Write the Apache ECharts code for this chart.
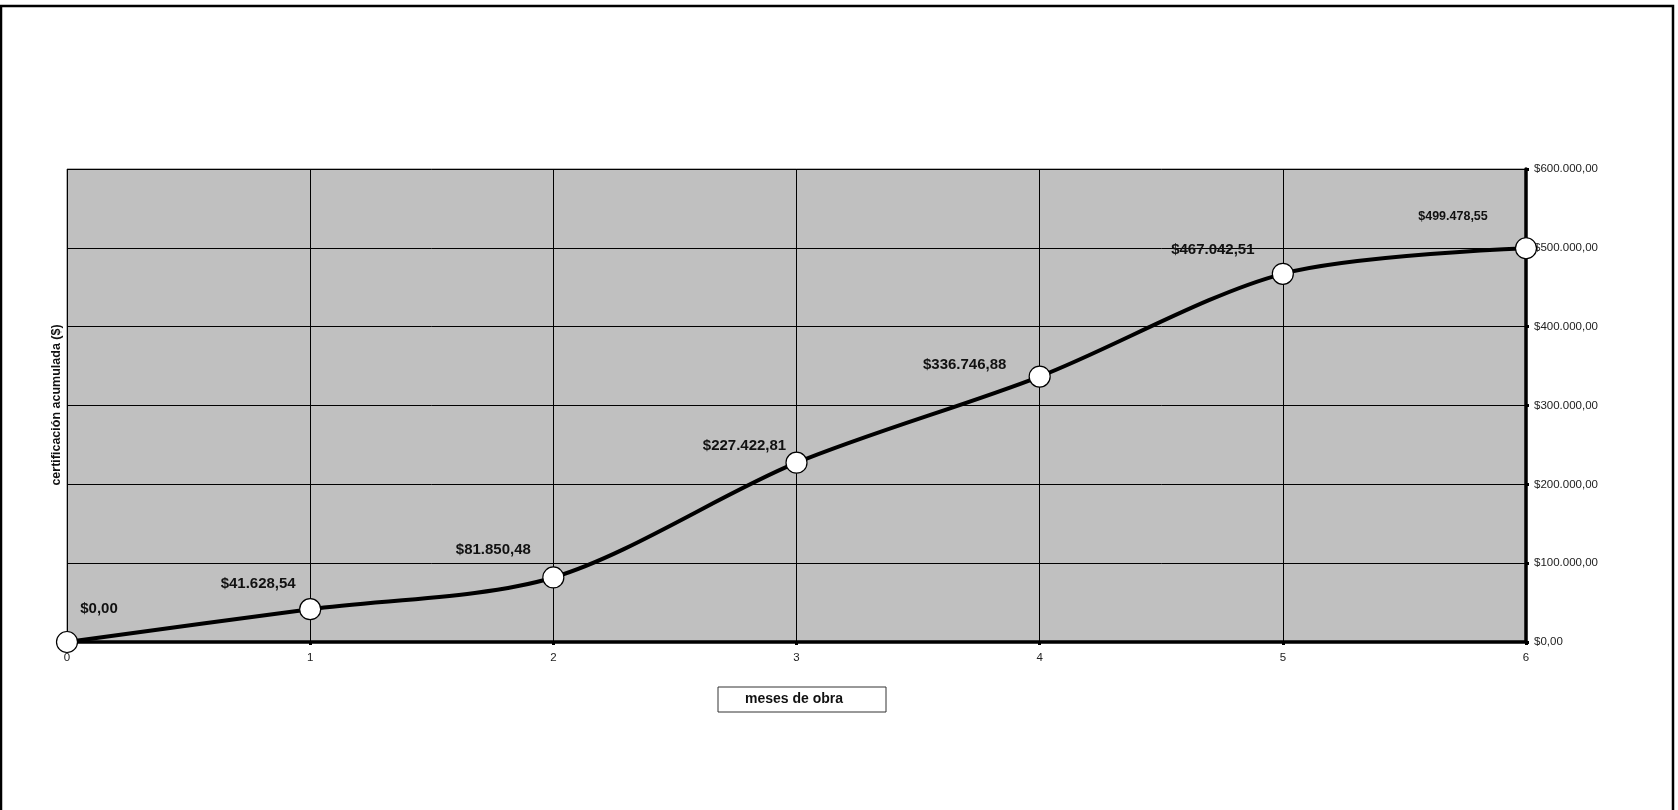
<!DOCTYPE html>
<html>
<head>
<meta charset="utf-8">
<script src="https://cdn.jsdelivr.net/npm/echarts@6/dist/echarts.min.js"></script>
<style>
html,body{margin:0;padding:0;background:#fff;}
#chart{width:1678px;height:810px;}
</style>
</head>
<body>
<div id="chart"></div>
<script>
// Data
var months = [0, 1, 2, 3, 4, 5, 6];
var cumulative = [0, 41628.54, 81850.48, 227422.81, 336746.88, 467042.51, 499478.55];
var yTicks = [0, 100000, 200000, 300000, 400000, 500000, 600000];
var xTitle = 'meses de obra';
var yTitle = 'certificación acumulada ($)';

// Label layout (style, not data)
var labelOffsets = [[32, -33], [-52, -25], [-60, -28], [-52, -17], [-75, -12], [-70, -24], [-73, -32]];
var labelSizes = [15, 15, 15, 15, 15, 15, 12.5];

function fmtMoney(v) {
  var fixed = v.toFixed(2);
  var parts = fixed.split('.');
  var intPart = parts[0].replace(/\B(?=(\d{3})+(?!\d))/g, '.');
  return '$' + intPart + ',' + parts[1];
}

var seriesData = months.map(function (m, i) {
  return {
    value: [m, cumulative[i]],
    label: {
      show: true,
      position: 'inside',
      offset: labelOffsets[i],
      fontSize: labelSizes[i],
      fontWeight: 'bold',
      color: '#111',
      fontFamily: 'Liberation Sans, Arial, sans-serif',
      formatter: function (p) { return fmtMoney(p.value[1]); }
    }
  };
});

var chart = echarts.init(document.getElementById('chart'));
chart.setOption({
  animation: false,
  backgroundColor: '#fff',
  grid: {
    left: 67, right: 152, top: 169, bottom: 168,
    show: true, backgroundColor: '#c0c0c0', borderColor: '#666', borderWidth: 1
  },
  xAxis: {
    type: 'value', min: 0, max: 6, interval: 1,
    axisLine: { show: true, onZero: false, lineStyle: { color: '#000', width: 3.5 } },
    axisTick: { show: true, length: 3, lineStyle: { color: '#000', width: 3 } },
    axisLabel: { color: '#222', fontSize: 11.5, margin: 10, fontFamily: 'Liberation Sans, Arial, sans-serif' },
    splitLine: { show: true, lineStyle: { color: '#000', width: 1 } }
  },
  yAxis: {
    type: 'value', position: 'right', min: 0, max: 600000, interval: 100000,
    axisLine: { show: true, onZero: false, lineStyle: { color: '#000', width: 3.5 } },
    axisTick: { show: true, length: 3, lineStyle: { color: '#000', width: 3 } },
    axisLabel: { color: '#222', fontSize: 11.5, margin: 8, fontFamily: 'Liberation Sans, Arial, sans-serif',
      formatter: function (v) { return fmtMoney(v); } },
    splitLine: { show: true, lineStyle: { color: '#000', width: 1 } }
  },
  series: [{
    type: 'line',
    data: seriesData,
    smooth: 0.3,
    lineStyle: { color: '#000', width: 4 },
    symbol: 'circle',
    symbolSize: 21,
    itemStyle: { color: '#fff', borderColor: '#000', borderWidth: 1.2 },
    z: 5
  }],
  graphic: [
    {
      type: 'rect', silent: true,
      shape: { x: 1, y: 6, width: 1672, height: 810 },
      style: { fill: 'none', stroke: '#000', lineWidth: 2.5 }
    },
    {
      type: 'rect', silent: true,
      shape: { x: 718, y: 687, width: 168, height: 25 },
      style: { fill: '#fff', stroke: '#333', lineWidth: 1 }
    },
    {
      type: 'text', silent: true,
      x: 794, y: 699.5,
      style: { text: xTitle, fill: '#111', font: 'bold 14px Liberation Sans, Arial, sans-serif',
        textAlign: 'center', textVerticalAlign: 'middle' }
    },
    {
      type: 'text', silent: true,
      x: 57, y: 405, rotation: Math.PI / 2,
      style: { text: yTitle, fill: '#111', font: 'bold 12.5px Liberation Sans, Arial, sans-serif',
        textAlign: 'center', textVerticalAlign: 'middle' }
    }
  ]
});
</script>
</body>
</html>
